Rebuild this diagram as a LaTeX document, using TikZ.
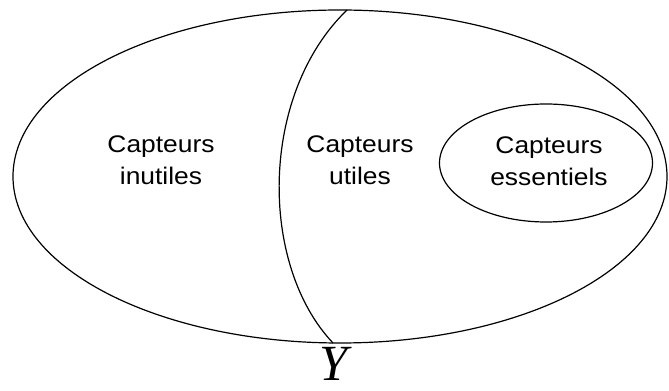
\documentclass[tikz,border=0pt]{standalone}
\usepackage{fontspec}
\usepackage{tikz}
\usetikzlibrary{shapes}
\newfontfamily\etiquette{Liberation Sans}[FakeStretch=1.1]
\newfontfamily\variable{Liberation Serif}

\begin{document}
\begin{tikzpicture}[
      x=0.75pt, y=-0.75pt,
      ensemble/.style={draw, ellipse, line width=0.9pt, inner sep=0pt},
      texte/.style={align=center, font=\etiquette\fontsize{18pt}{23.8pt}\selectfont}
    ]
    \useasboundingbox (0,0) rectangle (669,391);

    \node[ensemble, minimum width=490.5pt, minimum height=249.75pt] (tous) at (340,176.5) {};
    \node[ensemble, minimum width=159.75pt, minimum height=88.5pt] (essentiels) at (546,163) {};
    \node[texte] (essentiels texte) at (549,161) {Capteurs\\essentiels};
    \node[texte] (inutiles) at (161,160) {Capteurs\\inutiles};
    \node[texte] (utiles) at (360,160) {Capteurs\\utiles};

    \coordinate (haut) at (347,10);
    \coordinate (bas) at (333,343);
    \draw[line width=0.9pt] (haut) .. controls (259,95) and (259,265) .. (bas);

    \node[anchor=base, inner sep=0pt, font=\variable\itshape\fontsize{38pt}{38pt}\selectfont] (Y) at (334,381) {Y};
\end{tikzpicture}
\end{document}
